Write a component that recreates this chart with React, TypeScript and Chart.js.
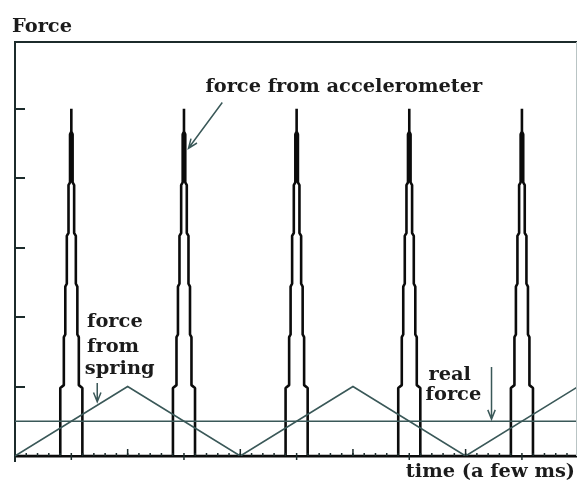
import React, { useEffect, useRef } from "react";
import { Chart, registerables } from "chart.js";

Chart.register(...registerables);

// ---- data ----
const spikeCenters = [1.0, 3.0, 5.0, 7.0, 9.0]; // time units of each accelerometer spike
const stepLevels = [0.98, 1.71, 2.44, 3.17, 3.9, 4.63]; // force levels where the spike narrows
const stepHalfWidths = [0.196, 0.133, 0.107, 0.08, 0.05, 0.023]; // half width below each level
const spikePeak = 5.0;
const springTimes = [0, 2, 4, 6, 8, 10];
const springForce = [0, 1, 0, 1, 0, 1];
const realForceValue = 0.5;
const yTickValues = [1, 2, 3, 4, 5];
const xMajorTicks = [2, 4, 6, 8];
const xOuterTicks = [0, 1, 3, 5, 7, 9];
const xMin = 0;
const xMax = 9.96;
const yMax = 5.96;

const axisColor = "#1c2b2b";
const springColor = "#3a5858";
const spikeColor = "#0b0b0b";
const textColor = "#1b1b1b";
const FONT = 'bold 19.4px "DejaVu Serif"';

function buildAccel() {
  const pts: { x: number; y: number }[] = [{ x: xMin, y: 0 }];
  const slant = 0.04;
  for (const c of spikeCenters) {
    const left: { x: number; y: number }[] = [];
    left.push({ x: c - stepHalfWidths[0], y: 0 });
    for (let i = 0; i < stepLevels.length; i++) {
      left.push({ x: c - stepHalfWidths[i], y: stepLevels[i] });
      const nextHw = i + 1 < stepHalfWidths.length ? stepHalfWidths[i + 1] : 0;
      left.push({ x: c - nextHw, y: stepLevels[i] + slant });
    }
    left.push({ x: c, y: spikePeak });
    const right = left
      .slice(0, -1)
      .reverse()
      .map((p) => ({ x: 2 * c - p.x, y: p.y }));
    pts.push(...left, ...right);
  }
  pts.push({ x: xMax, y: 0 });
  return pts;
}

function arrow(ctx: CanvasRenderingContext2D, x1: number, y1: number, x2: number, y2: number) {
  const a = Math.atan2(y2 - y1, x2 - x1);
  const hl = 10;
  const spread = 0.38;
  ctx.beginPath();
  ctx.moveTo(x1, y1);
  ctx.lineTo(x2, y2);
  ctx.moveTo(x2 - hl * Math.cos(a - spread), y2 - hl * Math.sin(a - spread));
  ctx.lineTo(x2, y2);
  ctx.lineTo(x2 - hl * Math.cos(a + spread), y2 - hl * Math.sin(a + spread));
  ctx.stroke();
}

const decorPlugin = {
  id: "decor",
  afterDatasetsDraw(chart: any) {
    const { ctx, chartArea } = chart;
    const xs = chart.scales.x;
    const ys = chart.scales.y;
    const X = (v: number) => xs.getPixelForValue(v);
    const Y = (v: number) => ys.getPixelForValue(v);
    ctx.save();
    // top border & right border
    ctx.strokeStyle = axisColor;
    ctx.lineWidth = 2;
    ctx.beginPath();
    ctx.moveTo(chartArea.left, chartArea.top);
    ctx.lineTo(chart.width, chartArea.top);
    ctx.stroke();
    ctx.strokeStyle = "#b9c4c4";
    ctx.lineWidth = 1;
    ctx.beginPath();
    ctx.moveTo(chartArea.right + 0.5, chartArea.top);
    ctx.lineTo(chartArea.right + 0.5, chartArea.bottom);
    ctx.stroke();

    // y ticks (inward)
    ctx.strokeStyle = axisColor;
    ctx.lineWidth = 2;
    for (const v of yTickValues) {
      const y = Math.round(Y(v));
      ctx.beginPath();
      ctx.moveTo(chartArea.left, y);
      ctx.lineTo(chartArea.left + 10, y);
      ctx.stroke();
    }
    // left axis extension below baseline
    ctx.beginPath();
    ctx.moveTo(chartArea.left, chartArea.bottom);
    ctx.lineTo(chartArea.left, chartArea.bottom + 6);
    ctx.stroke();

    // x minor ticks (inward)
    ctx.lineWidth = 1.5;
    for (let i = 1; i < 50; i++) {
      const v = i * 0.2;
      if (v > xMax) break;
      const x = X(v);
      ctx.beginPath();
      ctx.moveTo(x, chartArea.bottom);
      ctx.lineTo(x, chartArea.bottom - 3);
      ctx.stroke();
    }
    for (const v of xMajorTicks) {
      const x = X(v);
      ctx.beginPath();
      ctx.moveTo(x, chartArea.bottom);
      ctx.lineTo(x, chartArea.bottom - 7);
      ctx.stroke();
    }
    for (const v of xOuterTicks) {
      const x = X(v);
      ctx.beginPath();
      ctx.moveTo(x, chartArea.bottom);
      ctx.lineTo(x, chartArea.bottom + 4);
      ctx.stroke();
    }

    // texts
    ctx.fillStyle = textColor;
    ctx.font = FONT;
    ctx.textBaseline = "alphabetic";
    ctx.textAlign = "left";
    ctx.fillText("Force", 12, chartArea.top - 10);
    ctx.fillText("force from accelerometer", X(3.38), Y(5.24));
    ctx.fillText("force", X(1.28), Y(1.86));
    ctx.fillText("from", X(1.28), Y(1.5));
    ctx.fillText("spring", X(1.24), Y(1.18));
    ctx.fillText("real", X(7.34), Y(1.09));
    ctx.fillText("force", X(7.29), Y(0.81));
    ctx.textAlign = "right";
    ctx.fillText("time (a few ms)", chart.width - 2, chartArea.bottom + 21);

    // arrows
    ctx.strokeStyle = springColor;
    ctx.lineWidth = 1.5;
    arrow(ctx, X(3.68), Y(5.09), X(3.08), Y(4.43));
    arrow(ctx, X(1.46), Y(1.05), X(1.46), Y(0.78));
    arrow(ctx, X(8.46), Y(1.28), X(8.46), Y(0.53));
    ctx.restore();
  },
};

export default function App() {
  const ref = useRef<HTMLCanvasElement | null>(null);
  useEffect(() => {
    if (!ref.current) return;
    const chart = new Chart(ref.current, {
      type: "line",
      data: {
        datasets: [
          {
            label: "force from spring",
            data: springTimes.map((t, i) => ({ x: t, y: springForce[i] })),
            borderColor: springColor,
            borderWidth: 1.6,
            pointRadius: 0,
            tension: 0,
          },
          {
            label: "real force",
            data: [
              { x: xMin, y: realForceValue },
              { x: xMax, y: realForceValue },
            ],
            borderColor: springColor,
            borderWidth: 1.6,
            pointRadius: 0,
          },
          {
            label: "force from accelerometer",
            data: buildAccel(),
            borderColor: spikeColor,
            borderWidth: 2.6,
            borderJoinStyle: "bevel",
            pointRadius: 0,
            tension: 0,
          },
        ],
      },
      options: {
        responsive: false,
        animation: false,
        layout: { padding: { left: 15, top: 42, right: 1, bottom: 33 } },
        plugins: { legend: { display: false }, tooltip: { enabled: false } },
        scales: {
          x: {
            type: "linear",
            min: xMin,
            max: xMax,
            ticks: { display: false },
            grid: { display: false, drawTicks: false },
            border: { display: true, color: spikeColor, width: 2.6 },
          },
          y: {
            min: 0,
            max: yMax,
            ticks: { display: false, stepSize: 1 },
            grid: { display: false, drawTicks: false },
            border: { display: true, color: axisColor, width: 2 },
          },
        },
      },
      plugins: [decorPlugin],
    });
    return () => chart.destroy();
  }, []);
  return (
    <div style={{ position: "fixed", left: 0, top: 0, width: 577, height: 489, background: "#fff" }}>
      <canvas ref={ref} width={577} height={489} />
    </div>
  );
}
